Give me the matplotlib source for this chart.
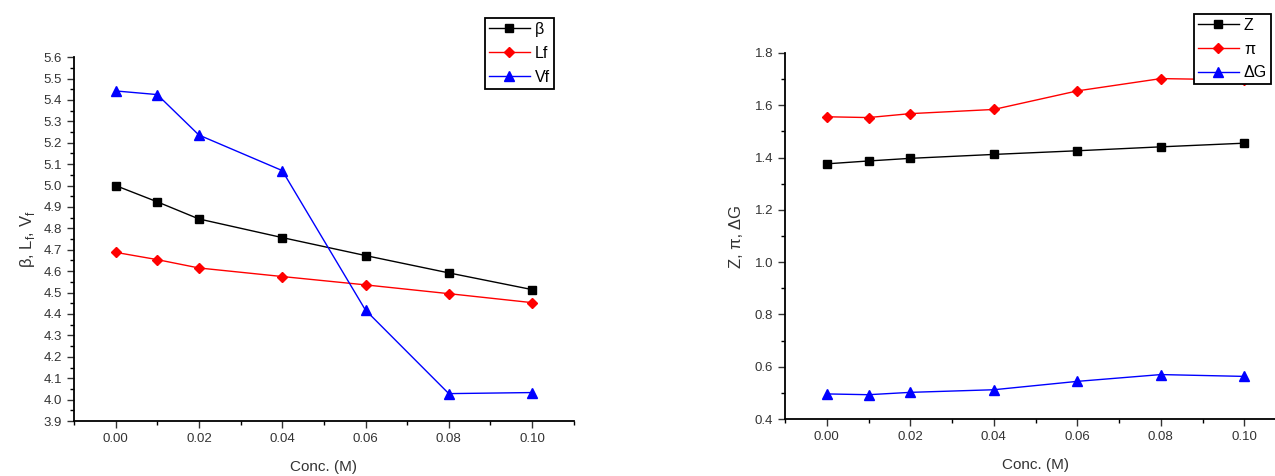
import matplotlib.pyplot as plt
from matplotlib.ticker import MultipleLocator

plt.rcParams['font.family'] = ['Liberation Sans', 'DejaVu Sans']

conc = [0.00, 0.01, 0.02, 0.04, 0.06, 0.08, 0.10]

# left panel
beta = [5.00, 4.924, 4.844, 4.757, 4.673, 4.592, 4.514]
lf = [4.688, 4.654, 4.615, 4.575, 4.536, 4.495, 4.453]
vf = [5.442, 5.425, 5.236, 5.070, 4.418, 4.028, 4.033]

# right panel
z = [1.376, 1.387, 1.397, 1.412, 1.426, 1.441, 1.455]
pi_ = [1.556, 1.553, 1.568, 1.584, 1.655, 1.702, 1.697]
dg = [0.496, 0.493, 0.502, 0.512, 0.544, 0.570, 0.563]

fig = plt.figure(figsize=(12.75, 4.76), dpi=100)
ax1 = fig.add_axes([0.058, 0.1155, 0.392, 0.7645])
ax2 = fig.add_axes([0.6157, 0.1197, 0.393, 0.769])


def style(ax):
    for s in ['top', 'right']:
        ax.spines[s].set_visible(False)
    for s in ['left', 'bottom']:
        ax.spines[s].set_linewidth(1.3)
    ax.set_xlim(-0.01, 0.11)
    ax.set_xticks([0.00, 0.02, 0.04, 0.06, 0.08, 0.10])
    ax.set_xticklabels(['0.00', '0.02', '0.04', '0.06', '0.08', '0.10'])
    ax.xaxis.set_minor_locator(MultipleLocator(0.01))
    ax.tick_params(which='major', direction='out', length=5, width=1, labelsize=9.5, colors='#333333')
    ax.tick_params(which='minor', direction='out', length=3, width=1)
    ax.set_xlabel('Conc. (M)', fontsize=11, color='#333333', labelpad=11)


def add_legend(ax, anchor):
    leg = ax.legend(loc='upper right', bbox_to_anchor=anchor, bbox_transform=fig.transFigure,
                    fancybox=False, edgecolor='black', framealpha=1, fontsize=11.5,
                    handlelength=2.6, borderpad=0.25, labelspacing=0.55, handletextpad=0.3,
                    borderaxespad=0)
    leg.get_frame().set_linewidth(1.3)


ax1.plot(conc, beta, '-s', color='black', lw=1, ms=6, label='β')
ax1.plot(conc, lf, '-D', color='red', lw=1, ms=5, label='Lf')
ax1.plot(conc, vf, '-^', color='blue', lw=1, ms=7.5, label='Vf')
style(ax1)
ax1.set_ylim(3.9, 5.6)
ax1.yaxis.set_major_locator(MultipleLocator(0.1))
ax1.yaxis.set_minor_locator(MultipleLocator(0.05))
ax1.set_ylabel('β, L$_\\mathregular{f}$, V$_\\mathregular{f}$', fontsize=12, color='#333333', labelpad=5)
add_legend(ax1, (0.4345, 0.962))

ax2.plot(conc, z, '-s', color='black', lw=1, ms=6, label='Z')
ax2.plot(conc, pi_, '-D', color='red', lw=1, ms=5, label='π')
ax2.plot(conc, dg, '-^', color='blue', lw=1, ms=7.5, label='ΔG')
style(ax2)
ax2.set_ylim(0.4, 1.8)
ax2.yaxis.set_major_locator(MultipleLocator(0.2))
ax2.yaxis.set_minor_locator(MultipleLocator(0.1))
ax2.set_ylabel('Z, π, ΔG', fontsize=12, color='#333333', labelpad=8)
add_legend(ax2, (0.997, 0.971))

plt.savefig('out.png', dpi=100)
